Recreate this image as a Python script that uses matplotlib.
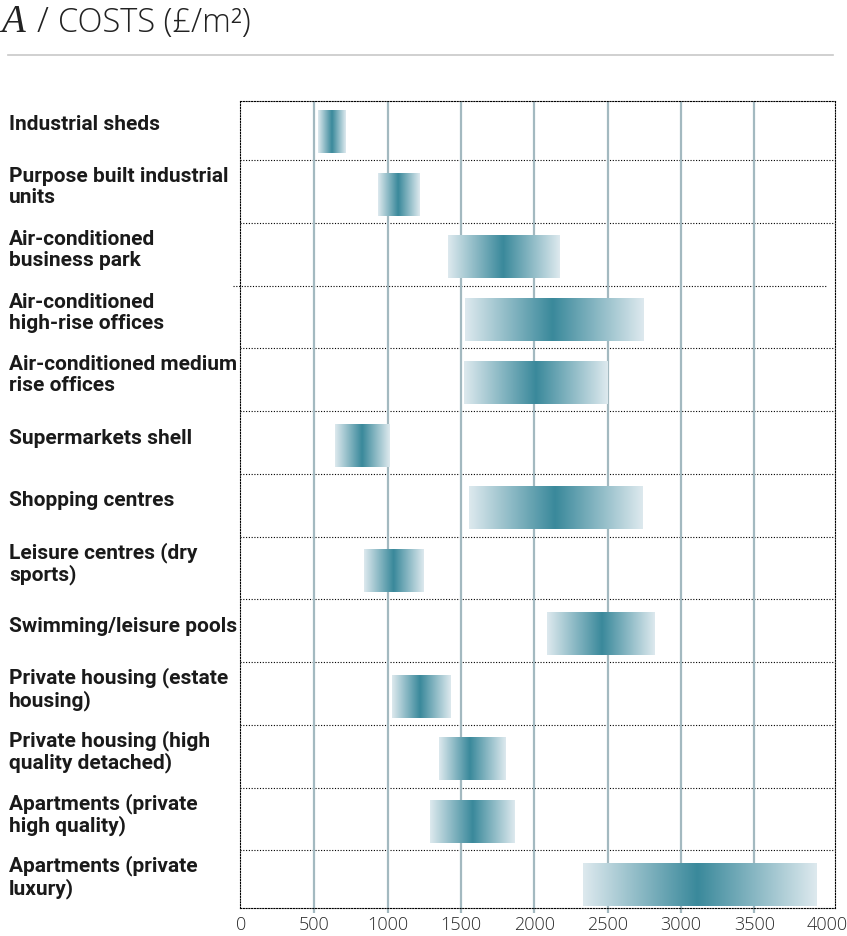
import numpy as np
import matplotlib.pyplot as plt
from matplotlib.colors import LinearSegmentedColormap
from matplotlib.lines import Line2D
import matplotlib.transforms as mtransforms

categories = [
    "Industrial sheds",
    "Purpose built industrial\nunits",
    "Air-conditioned\nbusiness park",
    "Air-conditioned\nhigh-rise offices",
    "Air-conditioned medium\nrise offices",
    "Supermarkets shell",
    "Shopping centres",
    "Leisure centres (dry\nsports)",
    "Swimming/leisure pools",
    "Private housing (estate\nhousing)",
    "Private housing (high\nquality detached)",
    "Apartments (private\nhigh quality)",
    "Apartments (private\nluxury)",
]
low = [525, 935, 1410, 1525, 1520, 640, 1555, 840, 2085, 1030, 1350, 1290, 2330]
high = [715, 1215, 2170, 2740, 2500, 1015, 2735, 1245, 2820, 1430, 1805, 1865, 3925]
peak = [620, 1070, 1785, 2120, 2010, 825, 2140, 1040, 2460, 1220, 1560, 1580, 3110]
xticks = [0, 500, 1000, 1500, 2000, 2500, 3000, 3500, 4000]

DARK = "#3a899b"
LIGHT = "#dde9ee"
GRID = "#a3b9c0"

W, H = 847, 936
fig = plt.figure(figsize=(W / 100, H / 100), dpi=100)
ax = fig.add_axes([240 / W, 1 - 908 / H, 595 / W, 807 / H])

cmap = LinearSegmentedColormap.from_list("teal", [LIGHT, DARK])
bar_h = 0.67
for i in range(len(categories)):
    xs = np.linspace(low[i], high[i], 400)
    t = np.where(xs <= peak[i], (xs - low[i]) / (peak[i] - low[i]),
                 (high[i] - xs) / (high[i] - peak[i]))
    ax.imshow(t[None, :], cmap=cmap, vmin=0, vmax=1, aspect="auto",
              interpolation="bilinear", zorder=3,
              extent=[low[i], high[i], i + bar_h / 2, i - bar_h / 2])

ytop, ybot = -0.494, 12.37
ax.set_xlim(-8, 4050)
ax.set_ylim(ybot, ytop)

# vertical grid, running a little below the frame
for v in xticks[1:-1]:
    ax.plot([v, v], [ybot + 0.08, ytop], color=GRID, lw=1.6,
            zorder=2, clip_on=False, solid_capstyle="butt")

# dotted row separators
dots = (0, (1, 1.5))
for i in range(len(categories) - 1):
    if i == 2:
        ax.axhline(i + 0.45, xmin=-7 / 595, xmax=586 / 595, color="black",
                   lw=0.8, ls=dots, zorder=1, clip_on=False)
    else:
        ax.axhline(i + 0.45, color="black", lw=0.8, ls=dots, zorder=1)

for s in ax.spines.values():
    s.set_linestyle(dots)
    s.set_linewidth(0.8)

ax.set_xticks(xticks)
ax.set_xticklabels([str(v) for v in xticks], fontfamily="Open Sans",
                   fontweight="light", fontsize=13, color="#2a2a2a")
ax.tick_params(axis="x", length=0, pad=6)
ax.set_yticks([])

trans = mtransforms.blended_transform_factory(fig.transFigure, ax.transData)
for i, name in enumerate(categories):
    ax.text(9 / W, i - 0.12, name, transform=trans, ha="left", va="center",
            fontfamily="Roboto", fontweight="bold", fontsize=15,
            color="#1a1a1a", linespacing=1.12, clip_on=False)

# title
fig.text(1 / W, 1 - 32 / H, "A", fontfamily="Liberation Serif",
         style="italic", fontsize=28, color="#222222", va="baseline")
fig.text(37 / W, 1 - 32 / H, "/", fontfamily="Open Sans", fontweight="light",
         fontsize=25, color="#222222", va="baseline")
fig.text(58 / W, 1 - 32 / H, "COSTS (£/m²)", fontfamily="Open Sans",
         fontweight="light", fontsize=23.5, color="#222222", va="baseline")
fig.add_artist(Line2D([8 / W, 833 / W], [1 - 55 / H] * 2, color="#c8c8c8",
                      lw=1.2))

fig.savefig("out.png", dpi=100)
